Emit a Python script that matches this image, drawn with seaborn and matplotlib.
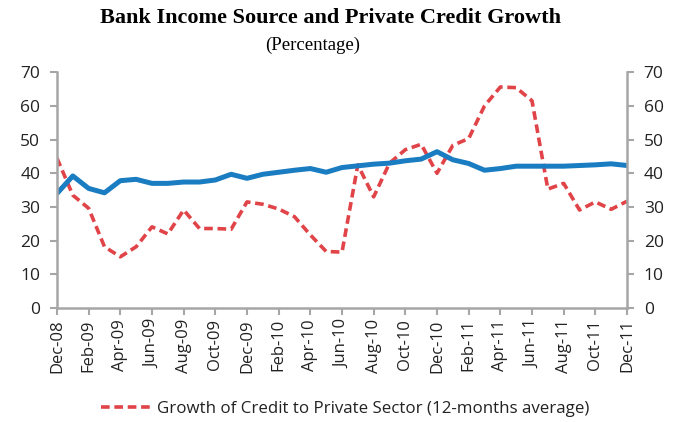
import matplotlib
matplotlib.use("Agg")
import matplotlib.pyplot as plt
import seaborn as sns
import pandas as pd
import numpy as np

months = ["Dec-08", "Jan-09", "Feb-09", "Mar-09", "Apr-09", "May-09", "Jun-09", "Jul-09",
          "Aug-09", "Sep-09", "Oct-09", "Nov-09", "Dec-09", "Jan-10", "Feb-10", "Mar-10",
          "Apr-10", "May-10", "Jun-10", "Jul-10", "Aug-10", "Sep-10", "Oct-10", "Nov-10",
          "Dec-10", "Jan-11", "Feb-11", "Mar-11", "Apr-11", "May-11", "Jun-11", "Jul-11",
          "Aug-11", "Sep-11", "Oct-11", "Nov-11", "Dec-11"]

bank_income = [34.0, 39.2, 35.5, 34.2, 37.8, 38.2, 37.0, 37.0, 37.4, 37.4, 38.0, 39.7,
               38.5, 39.7, 40.3, 40.9, 41.4, 40.3, 41.7, 42.2, 42.7, 43.0, 43.7, 44.2,
               46.4, 44.0, 42.9, 40.9, 41.4, 42.1, 42.1, 42.1, 42.1, 42.3, 42.5, 42.8,
               42.3]

credit_growth = [44.5, 33.5, 29.6, 18.2, 15.2, 18.2, 24.1, 22.0, 29.1, 23.6, 23.6, 23.4,
                 31.5, 30.8, 29.4, 27.1, 21.7, 16.8, 16.6, 42.5, 33.0, 43.0, 47.0, 48.6,
                 40.0, 48.3, 50.3, 60.0, 65.6, 65.4, 61.5, 35.3, 37.0, 29.1, 31.5, 29.3,
                 31.7]

series_label = "Growth of Credit to Private Sector (12-months average)"

df = pd.DataFrame({"idx": np.arange(len(months)),
                   "bank": bank_income,
                   "credit": credit_growth})

sns.set_theme(style="white")
plt.rcParams["font.family"] = ["Open Sans", "DejaVu Sans"]

fig = plt.figure(figsize=(6.84, 4.22), dpi=100)
ax = fig.add_axes([0.0833, 0.270, 0.8334, 0.559])

blue = "#1a7cc1"
red = "#e04448"
grey = "#a6a6a6"

sns.lineplot(data=df, x="idx", y="credit", ax=ax, color=red, linewidth=2.6,
             label=series_label)
ax.lines[-1].set_dashes((2.4, 1.3))
sns.lineplot(data=df, x="idx", y="bank", ax=ax, color=blue, linewidth=3.6,
             legend=False)

ax.set_xlim(0, len(months) - 1)
ax.set_ylim(0, 70)
ax.set_yticks(range(0, 71, 10))
ax.set_xticks(df["idx"][::2])
ax.set_xticklabels(months[::2], rotation=90)
ax.set_xlabel("")
ax.set_ylabel("")

for side in ["left", "right", "bottom"]:
    ax.spines[side].set_color(grey)
    ax.spines[side].set_linewidth(1.8)
ax.spines["top"].set_visible(False)

ax.tick_params(axis="y", which="both", left=True, right=True, labelleft=True,
               labelright=True, length=5, width=1.5, color=grey,
               labelsize=12.5, labelcolor="#222222", pad=7)
ax.tick_params(axis="x", bottom=True, length=5, width=1.5, color=grey,
               labelsize=12, labelcolor="#222222", pad=3)

leg = ax.legend(loc="upper center", bbox_to_anchor=(0.505, -0.33), frameon=False,
                fontsize=12.2, handlelength=3.0, handletextpad=0.3)
for t in leg.get_texts():
    t.set_color("#222222")

fig.text(0.483, 0.958, "Bank Income Source and Private Credit Growth",
         ha="center", va="center", fontsize=16, fontweight="bold",
         family="Liberation Serif", color="black")
fig.text(0.457, 0.893, "(Percentage)", ha="center", va="center", fontsize=13.5,
         family="Liberation Serif", color="black")

fig.savefig("out.png", dpi=100)
